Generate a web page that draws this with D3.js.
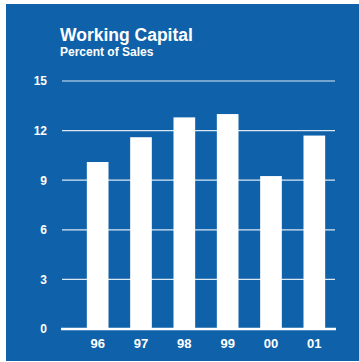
<!DOCTYPE html>
<html>
<head>
<meta charset="utf-8">
<script src="https://cdn.jsdelivr.net/npm/d3@7"></script>
<style>
  html, body { margin: 0; padding: 0; background: #ffffff; }
  svg { display: block; }
  text { font-family: "Liberation Sans", Arial, sans-serif; font-weight: bold; fill: #ffffff; }
</style>
</head>
<body>
<script>
// Working capital as a percent of sales, fiscal years 1996–2001
const years = ["96", "97", "98", "99", "00", "01"];
const percentOfSales = [10.1, 11.6, 12.8, 13.0, 9.25, 11.7];
const yTicks = [0, 3, 6, 9, 12, 15];

const width = 359, height = 362;
const svg = d3.select("body").append("svg")
  .attr("width", width).attr("height", height);

// blue panel
svg.append("rect")
  .attr("x", 6).attr("y", 4)
  .attr("width", width - 6).attr("height", 357)
  .attr("fill", "#0f62aa");

const x = d3.scaleBand()
  .domain(years)
  .range([76, 336])
  .paddingInner(0.5)
  .paddingOuter(0.25);

const y = d3.scaleLinear()
  .domain([0, 15])
  .range([329, 81]);

// horizontal grid lines
svg.append("g")
  .selectAll("line")
  .data(yTicks.filter(d => d > 0))
  .join("line")
  .attr("x1", 62).attr("x2", 335)
  .attr("y1", d => y(d)).attr("y2", d => y(d))
  .attr("stroke", "#ffffff")
  .attr("stroke-opacity", 0.85)
  .attr("stroke-width", 1.2);

// bars
svg.append("g")
  .selectAll("rect")
  .data(years.map((yr, i) => ({ yr, v: percentOfSales[i] })))
  .join("rect")
  .attr("x", d => x(d.yr))
  .attr("width", x.bandwidth())
  .attr("y", d => y(d.v))
  .attr("height", d => y(0) - y(d.v))
  .attr("fill", "#ffffff");

// baseline
svg.append("line")
  .attr("x1", 61).attr("x2", 336)
  .attr("y1", y(0)).attr("y2", y(0))
  .attr("stroke", "#ffffff")
  .attr("stroke-width", 2.5);

// y-axis tick labels
const yAxis = d3.axisLeft(y).tickValues(yTicks).tickSize(0).tickPadding(0);
const gy = svg.append("g").attr("transform", "translate(47,0)").call(yAxis);
gy.select(".domain").remove();
gy.selectAll("text")
  .attr("font-size", 12)
  .attr("fill", "#ffffff")
  .attr("font-family", "Liberation Sans, Arial, sans-serif")
  .attr("font-weight", "bold");

// x-axis category labels
const xAxis = d3.axisBottom(x).tickSize(0).tickPadding(0);
const gx = svg.append("g").attr("transform", "translate(0,339)").call(xAxis);
gx.select(".domain").remove();
gx.selectAll("text")
  .attr("font-size", 13)
  .attr("fill", "#ffffff")
  .attr("font-family", "Liberation Sans, Arial, sans-serif")
  .attr("font-weight", "bold");

// titles
svg.append("text")
  .attr("x", 60).attr("y", 40.5)
  .attr("font-size", 17.5)
  .text("Working Capital");
svg.append("text")
  .attr("x", 60).attr("y", 55.5)
  .attr("font-size", 12)
  .text("Percent of Sales");
</script>
</body>
</html>
